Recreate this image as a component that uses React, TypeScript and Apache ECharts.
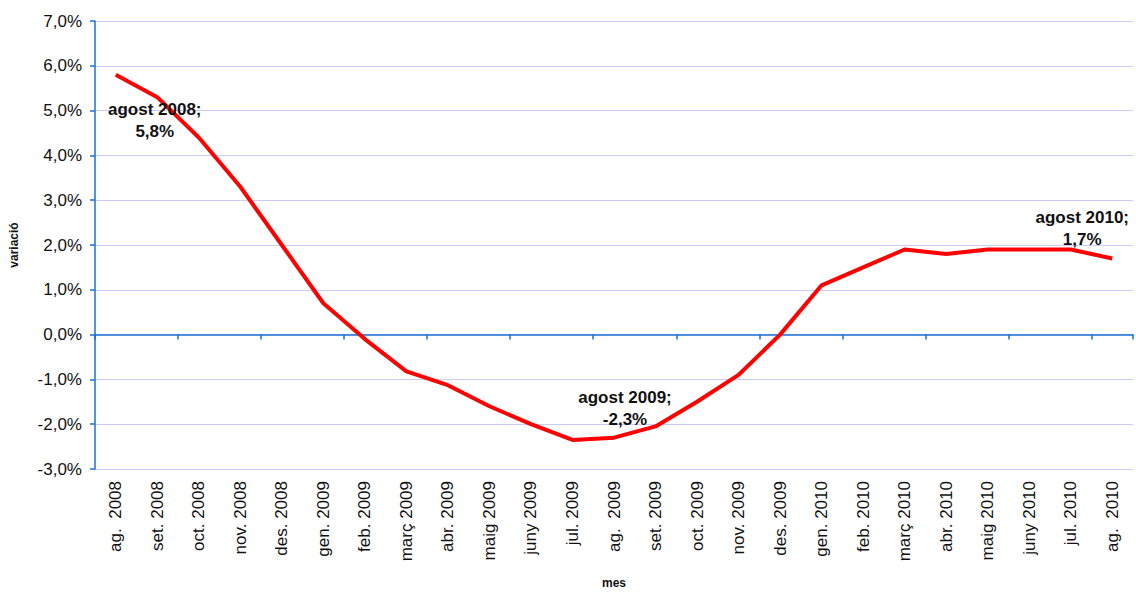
import React, { useEffect, useRef } from "react";
import * as echarts from "echarts";

const months = [
  "ag.  2008", "set. 2008", "oct. 2008", "nov. 2008", "des. 2008",
  "gen. 2009", "feb. 2009", "març 2009", "abr. 2009", "maig 2009",
  "juny 2009", "jul. 2009", "ag.  2009", "set. 2009", "oct. 2009",
  "nov. 2009", "des. 2009", "gen. 2010", "feb. 2010", "març 2010",
  "abr. 2010", "maig 2010", "juny 2010", "jul. 2010", "ag.  2010",
];

const variation = [
  5.8, 5.3, 4.4, 3.3, 2.0, 0.7, -0.1, -0.82, -1.13, -1.6,
  -2.0, -2.35, -2.3, -2.05, -1.5, -0.9, 0.0, 1.1, 1.5, 1.9,
  1.8, 1.9, 1.9, 1.9, 1.7,
];

const annotations = [
  { index: 0, text: "agost 2008;\n5,8%", offset: [39, 46] },
  { index: 12, text: "agost 2009;\n-2,3%", offset: [11, -29] },
  { index: 24, text: "agost 2010;\n1,7%", offset: [-30, -30] },
];

const FONT = "'Liberation Sans', Arial, sans-serif";
const AXIS_BLUE = "#1a6fd6";

export default function App() {
  const ref = useRef<HTMLDivElement>(null);

  useEffect(() => {
    if (!ref.current) return;
    const chart = echarts.init(ref.current, undefined, { renderer: "svg" });

    const seriesData = variation.map((v, i) => {
      const a = annotations.find((x) => x.index === i);
      if (!a) return v;
      return {
        value: v,
        label: {
          show: true,
          formatter: a.text,
          position: a.offset,
          align: "center",
          verticalAlign: "middle",
          fontFamily: FONT,
          fontWeight: "bold",
          fontSize: 17,
          color: "#111",
          lineHeight: 22,
        },
      };
    });

    chart.setOption({
      animation: false,
      backgroundColor: "#ffffff",
      grid: { left: 92, right: 3, top: 21, bottom: 120, containLabel: false },
      xAxis: [
        {
          type: "category",
          data: months,
          position: "bottom",
          boundaryGap: true,
          axisLine: { show: false, onZero: false },
          axisTick: { show: false },
          axisLabel: {
            rotate: 90,
            interval: 0,
            margin: 12,
            fontFamily: FONT,
            fontSize: 17,
            color: "#111",
          },
          name: "mes",
          nameLocation: "middle",
          nameGap: 108,
          nameTextStyle: { fontFamily: FONT, fontWeight: "bold", fontSize: 12, color: "#111" },
          splitLine: { show: false },
        },
        {
          type: "category",
          data: months,
          position: "bottom",
          boundaryGap: true,
          axisLine: { show: true, onZero: true, lineStyle: { color: AXIS_BLUE, width: 1.5 } },
          axisTick: { show: true, length: 5, lineStyle: { color: AXIS_BLUE, width: 1.5 } },
          axisLabel: { show: false },
          splitLine: { show: false },
        },
      ],
      yAxis: {
        type: "value",
        min: -3,
        max: 7,
        interval: 1,
        axisLine: { show: true, onZero: false, lineStyle: { color: AXIS_BLUE, width: 1.5 } },
        axisTick: { show: true, length: 5, lineStyle: { color: AXIS_BLUE, width: 1.5 } },
        axisLabel: {
          formatter: (v: number) => v.toFixed(1).replace(".", ",") + "%",
          fontFamily: FONT,
          fontSize: 17,
          color: "#111",
          margin: 13,
        },
        splitLine: { show: true, lineStyle: { color: "#ccccf6", width: 1 } },
        name: "variació",
        nameLocation: "middle",
        nameGap: 75,
        nameRotate: 90,
        nameTextStyle: { fontFamily: FONT, fontWeight: "bold", fontSize: 12, color: "#111" },
      },
      series: [
        {
          type: "line",
          xAxisIndex: 0,
          data: seriesData,
          showSymbol: true,
          symbol: "circle",
          symbolSize: 0,
          lineStyle: { color: "#ff0000", width: 4 },
          itemStyle: { color: "#ff0000" },
          label: { show: false },
          labelLayout: { hideOverlap: false },
          z: 5,
        },
      ],
    });

    return () => chart.dispose();
  }, []);

  return (
    <div
      ref={ref}
      style={{ position: "fixed", left: 0, top: 0, width: 1136, height: 594 }}
    />
  );
}
